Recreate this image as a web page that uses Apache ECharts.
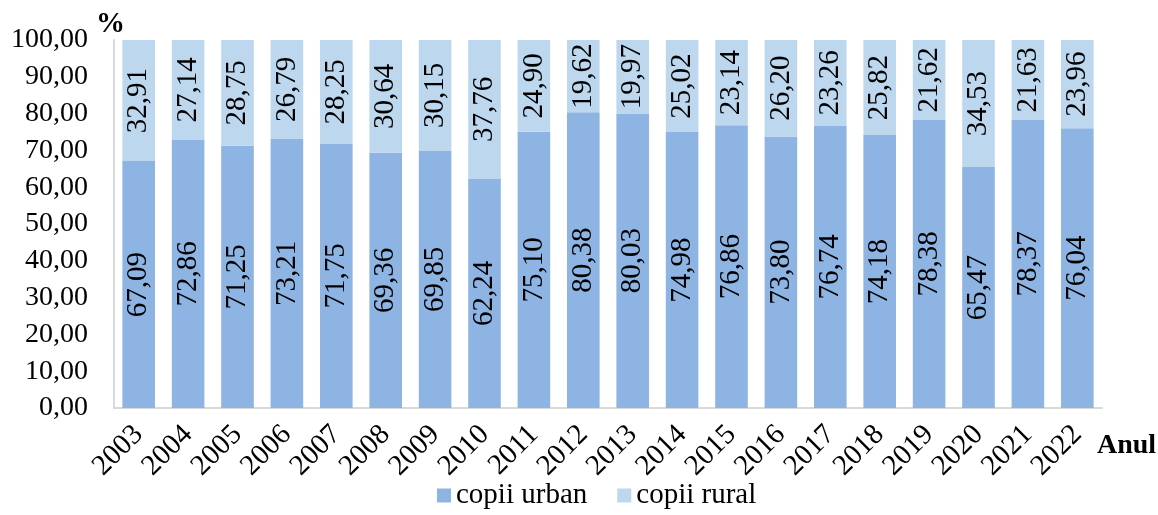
<!DOCTYPE html>
<html><head><meta charset="utf-8">
<script src="https://cdn.jsdelivr.net/npm/echarts@6/dist/echarts.min.js"></script>
<style>html,body{margin:0;padding:0;background:#fff}#c{width:1158px;height:515px}</style>
</head><body><div id="c"></div>
<script>
const years = ['2003','2004','2005','2006','2007','2008','2009','2010','2011','2012','2013','2014','2015','2016','2017','2018','2019','2020','2021','2022'];
const urban = [67.09,72.86,71.25,73.21,71.75,69.36,69.85,62.24,75.10,80.38,80.03,74.98,76.86,73.80,76.74,74.18,78.38,65.47,78.37,76.04];
const rural = [32.91,27.14,28.75,26.79,28.25,30.64,30.15,37.76,24.90,19.62,19.97,25.02,23.14,26.20,23.26,25.82,21.62,34.53,21.63,23.96];
const FONT = '"Liberation Serif","Times New Roman",serif';
const fmt = v => v.toFixed(2).replace('.', ',');
const chart = echarts.init(document.getElementById('c'));
const lbl = {
  show: true, rotate: 90, position: 'inside', color: '#000',
  fontFamily: FONT, fontSize: 29,
  formatter: p => fmt(p.value)
};
chart.setOption({
  animation: false,
  textStyle: {fontFamily: FONT},
  grid: {left: 114, right: 56, top: 40, bottom: 107, containLabel: false},
  legend: {
    bottom: 0, left: 432, itemWidth: 14, itemHeight: 14, itemGap: 30,
    icon: 'rect',
    textStyle: {fontFamily: FONT, fontSize: 29, color: '#000'},
    data: ['copii urban', 'copii rural']
  },
  graphic: [
    {type: 'text', left: 96, top: 10, style: {text: '%', font: 'bold 29px ' + FONT, fill: '#000'}},
    {type: 'text', left: 1097, top: 432, style: {text: 'Anul', font: 'bold 28px ' + FONT, fill: '#000'}}
  ],
  xAxis: {
    type: 'category', data: years,
    axisLine: {lineStyle: {color: '#d9d9d9', width: 2}},
    axisTick: {show: false},
    axisLabel: {rotate: 45, fontFamily: FONT, fontSize: 29, color: '#000', margin: 22, interval: 0}
  },
  yAxis: {
    type: 'value', min: 0, max: 100, interval: 10,
    axisLine: {show: true, lineStyle: {color: '#d9d9d9', width: 2}},
    axisTick: {show: false},
    splitLine: {show: false},
    axisLabel: {fontFamily: FONT, fontSize: 28, color: '#000', margin: 26, formatter: v => fmt(v)}
  },
  series: [
    {name: 'copii urban', type: 'bar', stack: 't', data: urban, barWidth: '66%',
     itemStyle: {color: '#8eb4e3'}, label: lbl},
    {name: 'copii rural', type: 'bar', stack: 't', data: rural, barWidth: '66%',
     itemStyle: {color: '#bdd7ee'}, label: lbl}
  ]
});
</script></body></html>
